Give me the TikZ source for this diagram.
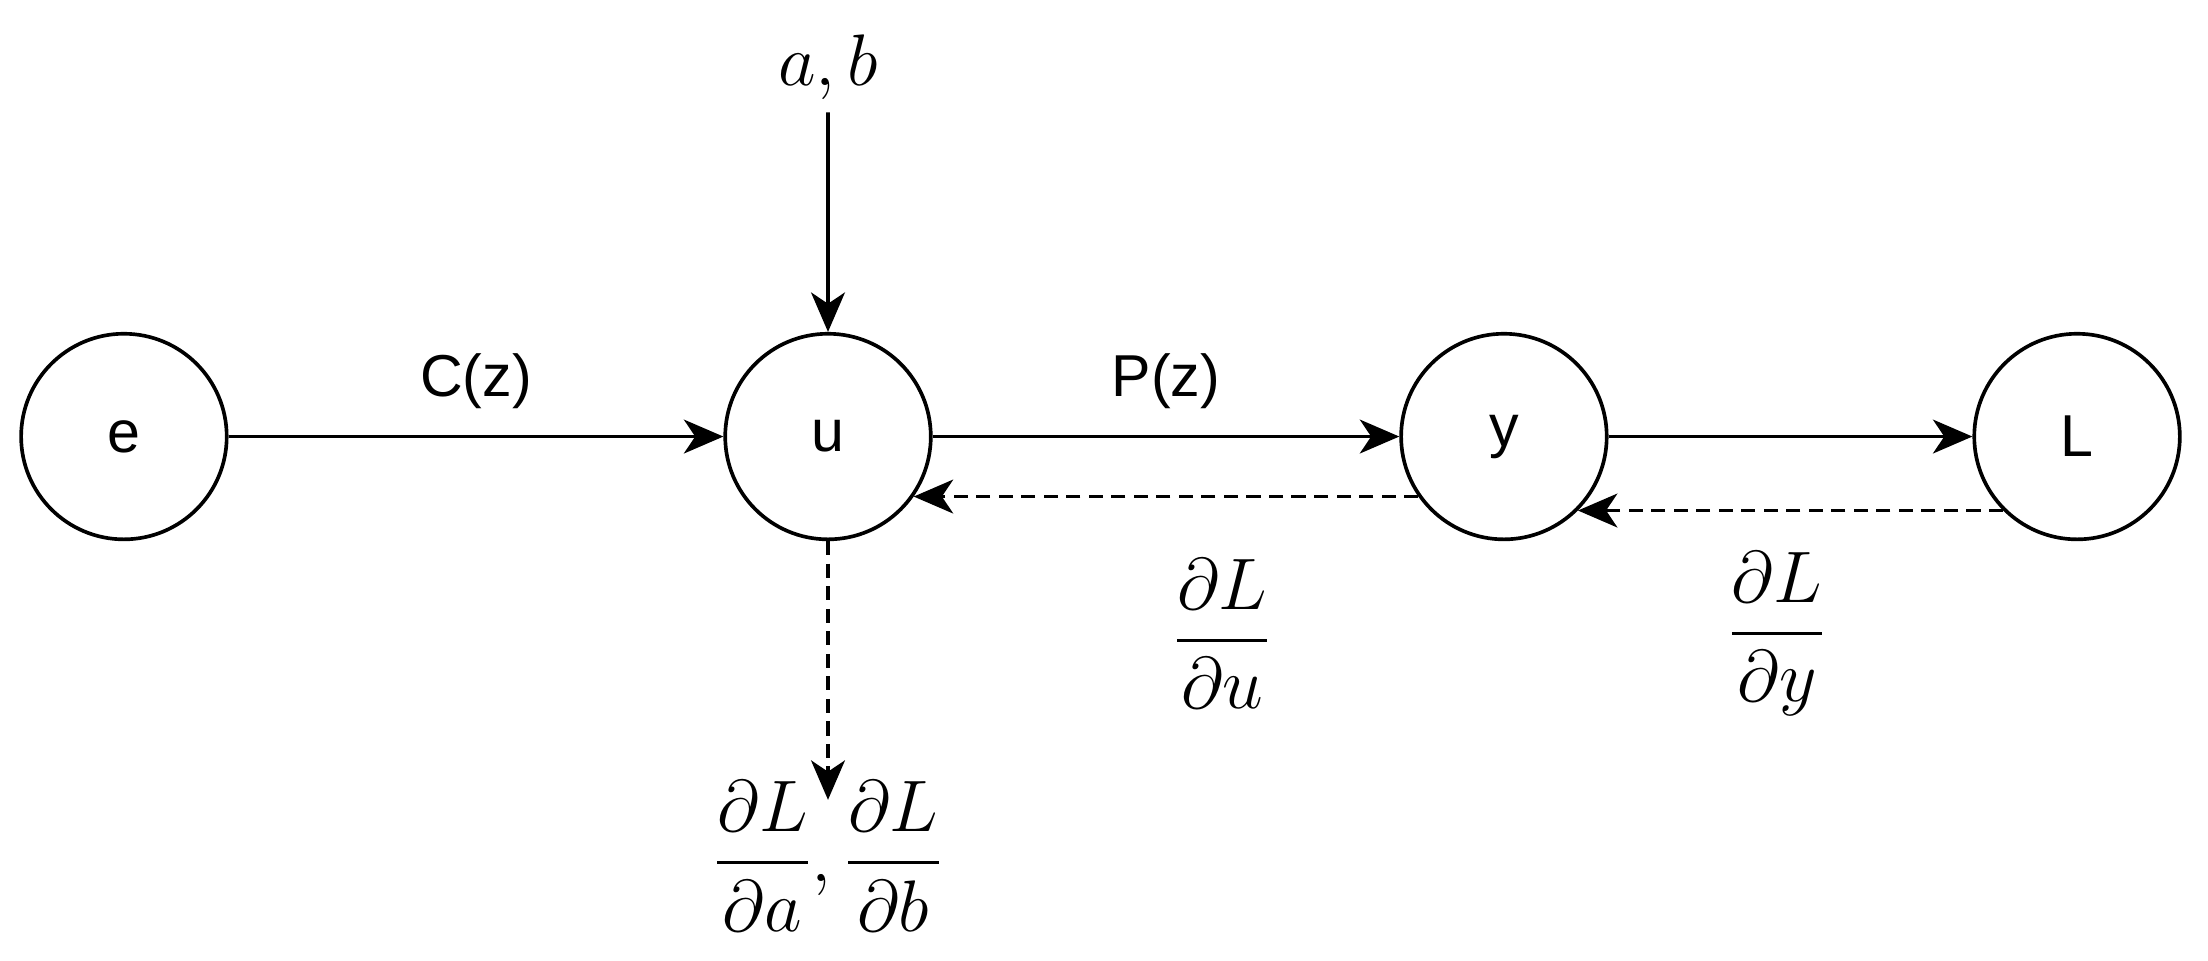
\documentclass[tikz,border=0pt]{standalone}
\usepackage{amsmath}
\usepackage{fontspec}
\setmainfont{Liberation Sans}
\usetikzlibrary{arrows.meta}
\begin{document}
\begin{tikzpicture}[x=0.5pt,y=-0.5pt,
  st/.style={circle,draw,line width=1.3pt,minimum size=73pt,inner sep=0pt,font=\fontsize{21}{25}\selectfont},
  ar/.style={line width=1.3pt,-{Stealth[length=14pt,width=12pt,inset=4pt]}},
  da/.style={ar,dashed,dash pattern=on 5pt off 3pt},
  lb/.style={font=\fontsize{21}{25}\selectfont},
  mt/.style={font=\fontsize{20}{24}\selectfont,scale=1.25}]
\useasboundingbox (0,0) rectangle (1568,682);
\node[st] (e) at (88,310) {e};
\node[st] (u) at (588,310) {u};
\node[st] (yn) at (1068,310) {y};
\node[st] (L) at (1475,310) {L};
\node[mt] (ab) at (588,48) {$a,b$};
\draw[ar] (ab) -- (u);
\draw[ar] (e) -- node[lb,above=6pt]{C(z)} (u);
\draw[ar] (u) -- node[lb,above=6pt]{P(z)} (yn);
\draw[ar] (yn) -- (L);
\draw[da] (yn.215) -- (u.325);
\draw[da] (L.225) -- (yn.-45);
\node[mt] (du) at (868,450) {$\dfrac{\partial L}{\partial u}$};
\node[mt] (dy) at (1262,450) {$\dfrac{\partial L}{\partial y}$};
\node[mt] (dab) at (588,608) {$\dfrac{\partial L}{\partial a},\dfrac{\partial L}{\partial b}$};
\coordinate (dend) at (588,568);
\draw[da] (u) -- (dend);
\end{tikzpicture}
\end{document}
